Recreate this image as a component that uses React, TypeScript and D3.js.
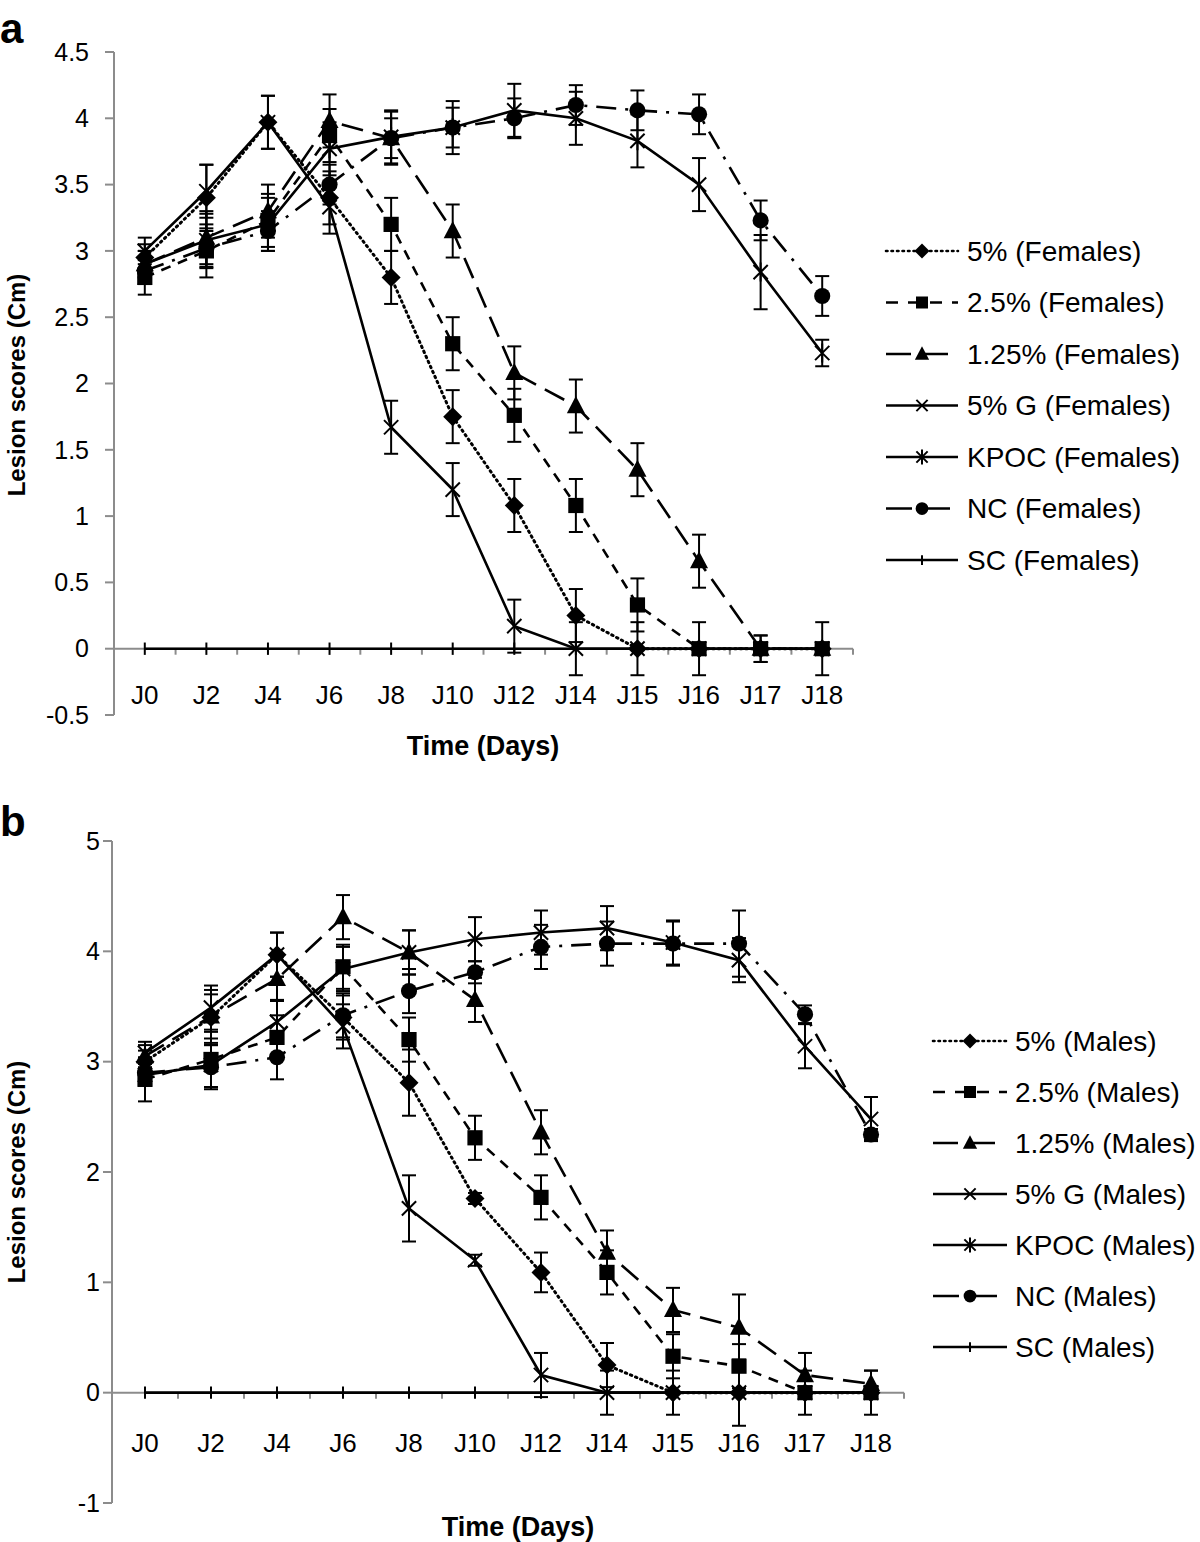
import React from 'react';
import * as d3 from 'd3';

const days = ['J0', 'J2', 'J4', 'J6', 'J8', 'J10', 'J12', 'J14', 'J15', 'J16', 'J17', 'J18'];
const groups = ['5%', '2.5%', '1.25%', '5% G', 'KPOC', 'NC', 'SC'];

// Females (panel a)
const f5 = [2.95, 3.4, 3.97, 3.4, 2.8, 1.75, 1.08, 0.25, 0, 0, 0, 0];
const f25 = [2.8, 3.0, 3.23, 3.87, 3.2, 2.3, 1.76, 1.08, 0.33, 0, 0, 0];
const f125 = [2.9, 3.1, 3.3, 3.98, 3.85, 3.15, 2.08, 1.83, 1.35, 0.66, 0, 0];
const f5G = [3.0, 3.45, 3.97, 3.33, 1.67, 1.2, 0.17, 0, 0, 0, 0, 0];
const fKPOC = [2.9, 3.08, 3.2, 3.77, 3.86, 3.93, 4.06, 4.0, 3.83, 3.5, 2.84, 2.23];
const fNC = [2.85, 3.02, 3.15, 3.5, 3.85, 3.93, 4.0, 4.1, 4.06, 4.03, 3.23, 2.66];
const fSC = [0, 0, 0, 0, 0, 0, 0, 0, 0, 0, 0, 0];

const f5Err = [0.1, 0.25, 0.2, 0.2, 0.2, 0.2, 0.2, 0.2, 0.2, 0, 0, 0];
const f25Err = [0.13, 0.2, 0.2, 0.2, 0.2, 0.2, 0.2, 0.2, 0.2, 0.2, 0.1, 0.2];
const f125Err = [0.1, 0.2, 0.2, 0.2, 0.2, 0.2, 0.2, 0.2, 0.2, 0.2, 0.1, 0];
const f5GErr = [0.1, 0.2, 0.2, 0.2, 0.2, 0.2, 0.2, 0.2, 0, 0, 0, 0];
const fKPOCErr = [0.1, 0.2, 0.2, 0.2, 0.2, 0.2, 0.2, 0.2, 0.2, 0.2, 0.28, 0.1];
const fNCErr = [0.1, 0.15, 0.15, 0.15, 0.15, 0.15, 0.15, 0.15, 0.15, 0.15, 0.15, 0.15];
const fSCErr = [0, 0, 0, 0, 0, 0, 0, 0, 0, 0, 0, 0];

// Males (panel b)
const m5 = [3.0, 3.4, 3.97, 3.4, 2.81, 1.76, 1.09, 0.25, 0, 0, 0, 0];
const m25 = [2.84, 3.02, 3.22, 3.86, 3.2, 2.31, 1.77, 1.09, 0.33, 0.24, 0, 0];
const m125 = [3.05, 3.41, 3.75, 4.31, 3.99, 3.56, 2.36, 1.27, 0.75, 0.59, 0.16, 0.08];
const m5G = [3.08, 3.49, 3.97, 3.32, 1.67, 1.2, 0.16, 0, 0, 0, 0, 0];
const mKPOC = [2.88, 2.97, 3.36, 3.84, 3.99, 4.11, 4.17, 4.21, 4.08, 3.92, 3.14, 2.48];
const mNC = [2.9, 2.95, 3.04, 3.42, 3.64, 3.81, 4.04, 4.07, 4.07, 4.07, 3.43, 2.34];
const mSC = [0, 0, 0, 0, 0, 0, 0, 0, 0, 0, 0, 0];

const m5Err = [0.1, 0.25, 0.2, 0.2, 0.3, 0.05, 0.18, 0.2, 0.2, 0.3, 0, 0];
const m25Err = [0.2, 0.25, 0.2, 0.2, 0.2, 0.2, 0.2, 0.2, 0.2, 0.2, 0.2, 0.2];
const m125Err = [0.1, 0.2, 0.2, 0.2, 0.2, 0.2, 0.2, 0.2, 0.2, 0.3, 0.2, 0.12];
const m5GErr = [0.1, 0.2, 0.2, 0.2, 0.3, 0.05, 0.2, 0.2, 0, 0, 0, 0];
const mKPOCErr = [0.1, 0.2, 0.2, 0.2, 0.2, 0.2, 0.2, 0.2, 0.2, 0.2, 0.2, 0.2];
const mNCErr = [0.1, 0.2, 0.2, 0.2, 0.2, 0.1, 0.2, 0.2, 0.2, 0.3, 0.08, 0.05];
const mSCErr = [0, 0, 0, 0, 0, 0, 0, 0, 0, 0, 0, 0];

const aTicks = [-0.5, 0, 0.5, 1, 1.5, 2, 2.5, 3, 3.5, 4, 4.5];
const bTicks = [-1, 0, 1, 2, 3, 4, 5];

// styles (not data)
const styles = [
  { dash: '1.5,4', legDash: '1.5,4', marker: 'diamond', lc: 'round' },
  { dash: '10,8', legDash: '12,10', marker: 'square', lc: 'butt' },
  { dash: '22,10', legDash: '25,12', marker: 'triangle', lc: 'butt' },
  { dash: null, legDash: null, marker: 'x', lc: 'butt' },
  { dash: null, legDash: null, marker: 'asterisk', lc: 'butt' },
  { dash: '20,9,3,9', legDash: '26,12', marker: 'circle', lc: 'butt' },
  { dash: null, legDash: null, marker: 'plus', lc: 'butt' },
];

const FONT = '"Liberation Sans", Arial, Helvetica, sans-serif';

function Marker({ type, x, y, s }: { type: string; x: number; y: number; s: number }) {
  const t = `translate(${x},${y})`;
  if (type === 'diamond') return <path transform={t} d={`M0,${-s}L${s},0L0,${s}L${-s},0Z`} fill="#000" />;
  if (type === 'square') return <rect transform={t} x={-s * 0.8} y={-s * 0.8} width={s * 1.6} height={s * 1.6} fill="#000" />;
  if (type === 'triangle') return <path transform={t} d={`M0,${-s * 1.05}L${s * 0.95},${s * 0.75}L${-s * 0.95},${s * 0.75}Z`} fill="#000" />;
  if (type === 'circle') return <circle cx={x} cy={y} r={s * 0.85} fill="#000" />;
  const k = s * 0.75;
  if (type === 'x') return <path transform={t} d={`M${-k},${-k}L${k},${k}M${-k},${k}L${k},${-k}`} stroke="#000" strokeWidth={2} fill="none" />;
  if (type === 'asterisk') return <path transform={t} d={`M${-k},${-k}L${k},${k}M${-k},${k}L${k},${-k}M0,${-s}L0,${s}`} stroke="#000" strokeWidth={2} fill="none" />;
  if (type === 'plus') return <path transform={t} d={`M0,${-s * 0.65}L0,${s * 0.65}`} stroke="#000" strokeWidth={2} fill="none" />;
  return null;
}

type PanelProps = {
  letter: string;
  letterY: number;
  sex: string;
  values: number[][];
  errs: number[][];
  ticks: number[];
  yDomain: [number, number];
  yRange: [number, number];
  xRange: [number, number];
  tickLabelRight: number;
  xLabelY: number;
  xTitle: [number, number];
  yTitleY: number;
  legend: { x0: number; x1: number; tx: number; y0: number; dy: number };
};

function Panel(p: PanelProps) {
  const x = d3.scaleBand<string>().domain(days).range(p.xRange).paddingInner(0).paddingOuter(0);
  const y = d3.scaleLinear().domain(p.yDomain).range(p.yRange);
  const cx = (d: string) => (x(d) as number) + x.bandwidth() / 2;
  const axisX = p.xRange[0];
  const y0 = y(0);
  const gray = '#8c8c8c';
  const line = d3
    .line<number>()
    .x((_, i) => cx(days[i]))
    .y((v) => y(v));

  return (
    <g>
      <text x={0} y={p.letterY} fontFamily={FONT} fontWeight="bold" fontSize={42}>
        {p.letter}
      </text>
      {/* y axis */}
      <line x1={axisX} x2={axisX} y1={p.yRange[0]} y2={p.yRange[1]} stroke={gray} strokeWidth={2} />
      {p.ticks.map((t) => (
        <g key={t}>
          <line x1={axisX - 9} x2={axisX} y1={y(t)} y2={y(t)} stroke={gray} strokeWidth={2} />
          <text x={p.tickLabelRight} y={y(t)} dy="0.35em" textAnchor="end" fontFamily={FONT} fontSize={25}>
            {t}
          </text>
        </g>
      ))}
      {/* x axis at zero */}
      <line x1={axisX} x2={p.xRange[1]} y1={y0} y2={y0} stroke={gray} strokeWidth={2} />
      {days.map((d) => (
        <line key={'b' + d} x1={(x(d) as number) + x.bandwidth()} x2={(x(d) as number) + x.bandwidth()} y1={y0} y2={y0 + 6} stroke={gray} strokeWidth={2} />
      ))}
      {days.map((d) => (
        <text key={'l' + d} x={cx(d)} y={p.xLabelY} textAnchor="middle" fontFamily={FONT} fontSize={26}>
          {d}
        </text>
      ))}
      <text x={p.xTitle[0]} y={p.xTitle[1]} textAnchor="middle" fontFamily={FONT} fontWeight="bold" fontSize={27}>
        Time (Days)
      </text>
      <text
        transform={`translate(25,${p.yTitleY}) rotate(-90)`}
        textAnchor="middle"
        fontFamily={FONT}
        fontWeight="bold"
        fontSize={24}
      >
        Lesion scores (Cm)
      </text>
      {/* error bars */}
      {p.values.map((vals, si) =>
        vals.map((v, i) => {
          const e = p.errs[si][i];
          if (!e) return null;
          const xx = cx(days[i]);
          return (
            <g key={`e${si}-${i}`} stroke="#000" strokeWidth={2}>
              <line x1={xx} x2={xx} y1={y(v - e)} y2={y(v + e)} />
              <line x1={xx - 7} x2={xx + 7} y1={y(v - e)} y2={y(v - e)} />
              <line x1={xx - 7} x2={xx + 7} y1={y(v + e)} y2={y(v + e)} />
            </g>
          );
        })
      )}
      {/* lines and markers */}
      {p.values.map((vals, si) => (
        <g key={'s' + si}>
          <path
            d={line(vals) as string}
            fill="none"
            stroke="#000"
            strokeWidth={si === 0 ? 3 : 2.6}
            strokeDasharray={styles[si].dash || undefined}
            strokeLinecap={styles[si].lc as any}
          />
          {vals.map((v, i) => (
            <Marker key={i} type={styles[si].marker} x={cx(days[i])} y={y(v)} s={9.5} />
          ))}
        </g>
      ))}
      {/* legend */}
      {groups.map((g, i) => {
        const ly = p.legend.y0 + i * p.legend.dy;
        const mx = (p.legend.x0 + p.legend.x1) / 2;
        return (
          <g key={'lg' + g}>
            <line
              x1={p.legend.x0}
              x2={p.legend.x1}
              y1={ly}
              y2={ly}
              stroke="#000"
              strokeWidth={2.6}
              strokeDasharray={styles[i].legDash || undefined}
              strokeLinecap={styles[i].lc as any}
            />
            <Marker type={styles[i].marker} x={mx} y={ly} s={7.5} />
            <text x={p.legend.tx} y={ly} dy="0.35em" fontFamily={FONT} fontSize={28}>
              {`${g} (${p.sex})`}
            </text>
          </g>
        );
      })}
    </g>
  );
}

export default function App() {
  return (
    <svg
      width={1200}
      height={1542}
      viewBox="0 0 1200 1542"
      style={{ position: 'absolute', left: 0, top: 0, background: '#fff' }}
    >
      <rect width={1200} height={1542} fill="#fff" />
      <Panel
        letter="a"
        letterY={43}
        sex="Females"
        values={[f5, f25, f125, f5G, fKPOC, fNC, fSC]}
        errs={[f5Err, f25Err, f125Err, f5GErr, fKPOCErr, fNCErr, fSCErr]}
        ticks={aTicks}
        yDomain={[-0.5, 4.5]}
        yRange={[715, 52]}
        xRange={[114, 853]}
        tickLabelRight={89}
        xLabelY={704}
        xTitle={[483, 755]}
        yTitleY={385}
        legend={{ x0: 886, x1: 958, tx: 967, y0: 251, dy: 51.5 }}
      />
      <Panel
        letter="b"
        letterY={836}
        sex="Males"
        values={[m5, m25, m125, m5G, mKPOC, mNC, mSC]}
        errs={[m5Err, m25Err, m125Err, m5GErr, mKPOCErr, mNCErr, mSCErr]}
        ticks={bTicks}
        yDomain={[-1, 5]}
        yRange={[1503, 841]}
        xRange={[112, 904]}
        tickLabelRight={100}
        xLabelY={1452}
        xTitle={[518, 1536]}
        yTitleY={1172}
        legend={{ x0: 933, x1: 1007, tx: 1015, y0: 1041, dy: 51 }}
      />
    </svg>
  );
}
